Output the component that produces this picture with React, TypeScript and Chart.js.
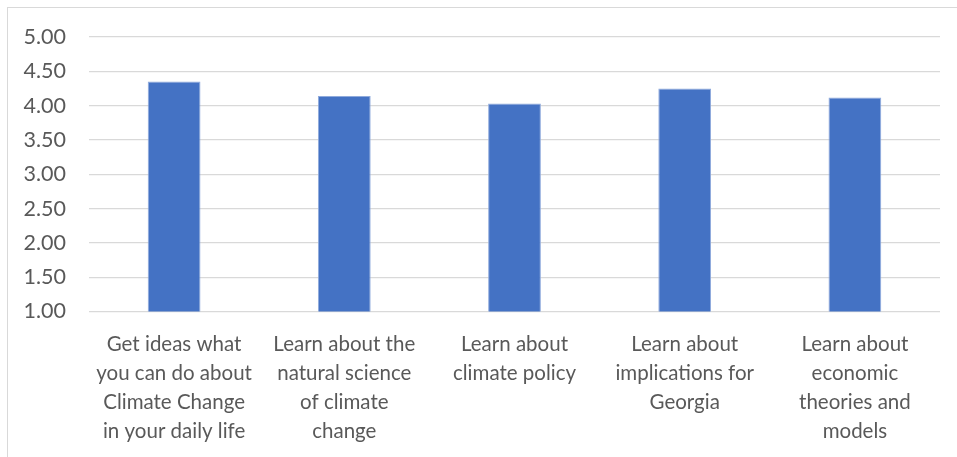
import React, { useEffect, useRef } from "react";
import { Chart, registerables } from "chart.js";

Chart.register(...registerables);

// Survey topics (multi-line category labels) and their mean ratings
const categories: string[][] = [
  ["Get ideas what", "you can do about", "Climate Change", "in your daily life"],
  ["Learn about the", "natural science", "of climate", "change"],
  ["Learn about", "climate policy"],
  ["Learn about", "implications for", "Georgia"],
  ["Learn about", "economic", "theories and", "models"],
];
const meanScores: number[] = [4.35, 4.14, 4.03, 4.25, 4.12];

const yMin = 1;
const yMax = 5;
const yStep = 0.5;

const FONT = "Lato, 'Open Sans', sans-serif";
const TEXT = "#595959";
const GRID = "#d9d9d9";
const BAR = "#4472c4";

export default function App() {
  const canvasRef = useRef<HTMLCanvasElement | null>(null);

  useEffect(() => {
    document.body.style.margin = "0";
    const canvas = canvasRef.current;
    if (!canvas) return;
    const chart = new Chart(canvas, {
      type: "bar",
      data: {
        labels: categories,
        datasets: [
          {
            data: meanScores,
            backgroundColor: BAR,
            borderColor: "#8faadc",
            borderWidth: 1,
            barPercentage: 0.31,
            categoryPercentage: 1,
          },
        ],
      },
      options: {
        responsive: false,
        animation: false,
        layout: { padding: { top: 37, right: 17, bottom: 0, left: 0 } },
        plugins: {
          legend: { display: false },
          tooltip: { enabled: false },
        },
        scales: {
          x: {
            grid: { display: false },
            border: { display: false },
            ticks: {
              color: TEXT,
              font: { family: FONT, size: 20.5, lineHeight: "29px" },
              maxRotation: 0,
              minRotation: 0,
              autoSkip: false,
              padding: 10,
            },
            afterFit: (scale: any) => {
              scale.height = 145.5;
            },
          },
          y: {
            min: yMin,
            max: yMax,
            border: { display: false },
            grid: { color: GRID, lineWidth: 1.2, drawTicks: false },
            ticks: {
              stepSize: yStep,
              color: TEXT,
              font: { family: FONT, size: 21.5 },
              padding: 23,
              callback: (v: any) => Number(v).toFixed(2),
            },
            afterFit: (scale: any) => {
              scale.width = 89;
            },
          },
        },
      },
    });
    return () => chart.destroy();
  }, []);

  return (
    <div style={{ position: "fixed", left: 0, top: 0, width: 957, height: 457, overflow: "hidden", background: "#fff" }}>
      <div
        style={{
          position: "absolute",
          left: 7,
          top: 7,
          width: 970,
          height: 470,
          border: `1px solid ${GRID}`,
          boxSizing: "border-box",
        }}
      />
      <canvas ref={canvasRef} width={957} height={457} style={{ position: "absolute", left: 0, top: 0 }} />
    </div>
  );
}
